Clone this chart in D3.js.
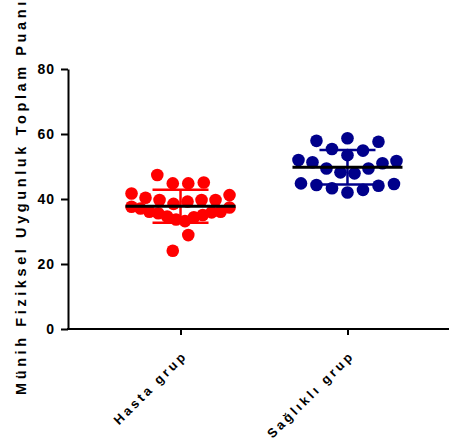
<!DOCTYPE html>
<html>
<head>
<meta charset="utf-8">
<script src="https://cdn.jsdelivr.net/npm/d3@7"></script>
<style>
  body { margin: 0; background: #fff; }
  svg { display: block; overflow: hidden; }
  text { font-family: "Liberation Sans", Arial, sans-serif; font-weight: bold; }
</style>
</head>
<body>
<div id="chart"></div>
<script>
// data
var groups = ['Hasta grup', 'Sağlıklı grup']
var hastaValues = [28.9, 24.1, 33.2, 33.7, 34.4, 34.6, 35.1, 35.6, 35.9, 36.1, 36.1, 37.1, 37.4,
  37.6, 39.2, 38.5, 39.7, 39.7, 39.7, 40.4, 41.2, 41.7, 44.8, 44.8, 45.1, 47.4]
var saglikliValues = [42.0, 42.8, 43.3, 44.1, 44.3, 44.6, 44.8, 47.9, 48.2, 49.4, 49.4, 51.0,
  51.3, 51.7, 52.0, 53.5, 54.9, 55.4, 57.6, 57.9, 58.7]
var groupColors = ['#ff0000', '#00008b']
var yTicks = [0, 20, 40, 60, 80]
var yTitle = 'Münih Fiziksel Uygunluk Toplam Puanı'

;(function () {
  var margin = { top: 69, right: 0, bottom: 110, left: 68 }
  var width = 449
  var height = 439

  var svg = d3.select('#chart')
    .append('svg')
    .attr('width', width)
    .attr('height', height)

  var y = d3.scaleLinear().domain([0, 80]).range([height - margin.bottom, margin.top])
  var x = d3.scalePoint().domain(groups).range([margin.left, 460]).padding(0.674)

  // scatter layout: greedy rows of ~5 units, spread sideways around the group centre
  function layout (values) {
    var idx = d3.range(values.length).sort(function (a, b) { return values[a] - values[b] || a - b })
    var rows = []
    var cur = null
    var start = 0
    idx.forEach(function (i) {
      if (!cur || values[i] - start > 5) { cur = [i]; start = values[i]; rows.push(cur) } else cur.push(i)
    })
    var out = []
    rows.forEach(function (row) {
      row.sort(d3.ascending)
      var n = row.length
      var step = n > 1 ? Math.min(15.5, 98 / (n - 1)) : 0
      row.forEach(function (k, i) {
        var slot
        if (n % 2) {
          slot = i === 0 ? 0 : (i % 2 ? 1 : -1) * Math.ceil(i / 2)
        } else {
          slot = (i % 2 ? -1 : 1) * (Math.floor(i / 2) + 0.5)
        }
        out.push({ value: values[k], dx: slot * step })
      })
    })
    return out
  }

  var data = [hastaValues, saglikliValues].map(function (vals, i) {
    return {
      name: groups[i],
      color: groupColors[i],
      points: layout(vals),
      mean: d3.mean(vals),
      sd: d3.deviation(vals)
    }
  })

  // axes
  var yAxis = d3.axisLeft(y).tickValues(yTicks).tickSize(7).tickSizeOuter(0).tickPadding(6)
  var gy = svg.append('g')
    .attr('class', 'axis y-axis')
    .attr('transform', 'translate(' + margin.left + ',0)')
    .call(yAxis)
  gy.selectAll('path, line').attr('stroke', '#000').attr('stroke-width', 2)
  gy.selectAll('text').attr('font-size', 14).attr('fill', '#000').attr('letter-spacing', 1)

  var xAxis = d3.axisBottom(x).tickSize(6).tickSizeOuter(0)
  var gx = svg.append('g')
    .attr('class', 'axis x-axis')
    .attr('transform', 'translate(0,' + y(0) + ')')
    .call(xAxis)
  gx.select('.domain').attr('d', 'M' + (margin.left - 1) + ',0H470')
  gx.selectAll('path, line').attr('stroke', '#000').attr('stroke-width', 2)
  gx.selectAll('text')
    .attr('font-size', 13)
    .attr('fill', '#000')
    .attr('letter-spacing', 3)
    .attr('text-anchor', 'end')
    .attr('x', 0).attr('y', 0).attr('dy', '0.35em')
    .attr('transform', 'translate(4,24) rotate(-45)')

  svg.append('text')
    .attr('transform', 'translate(26,395) rotate(-90)')
    .attr('font-size', 14.5)
    .attr('letter-spacing', 3.6)
    .attr('fill', '#000')
    .text(yTitle)

  // dots
  var g = svg.selectAll('.group')
    .data(data)
    .enter()
    .append('g')
    .attr('class', 'group')

  g.selectAll('circle')
    .data(function (d) { return d.points.map(function (p) { return { p: p, d: d } }) })
    .enter()
    .append('circle')
    .attr('cx', function (o) { return x(o.d.name) + o.p.dx })
    .attr('cy', function (o) { return y(o.p.value) })
    .attr('r', 6.3)
    .attr('fill', function (o) { return o.d.color })

  // mean and SD bars
  g.append('line')
    .attr('x1', function (d) { return x(d.name) })
    .attr('x2', function (d) { return x(d.name) })
    .attr('y1', function (d) { return y(d.mean + d.sd) })
    .attr('y2', function (d) { return y(d.mean - d.sd) })
    .attr('stroke', function (d) { return d.color })
    .attr('stroke-width', 2.5)
  ;[1, -1].forEach(function (s) {
    g.append('line')
      .attr('x1', function (d) { return x(d.name) - 28 })
      .attr('x2', function (d) { return x(d.name) + 28 })
      .attr('y1', function (d) { return y(d.mean + s * d.sd) })
      .attr('y2', function (d) { return y(d.mean + s * d.sd) })
      .attr('stroke', function (d) { return d.color })
      .attr('stroke-width', 2.5)
  })
  g.append('line')
    .attr('x1', function (d) { return x(d.name) - 55 })
    .attr('x2', function (d) { return x(d.name) + 55 })
    .attr('y1', function (d) { return y(d.mean) })
    .attr('y2', function (d) { return y(d.mean) })
    .attr('stroke', '#000')
    .attr('stroke-width', 3)
})()
</script>
</body>
</html>
